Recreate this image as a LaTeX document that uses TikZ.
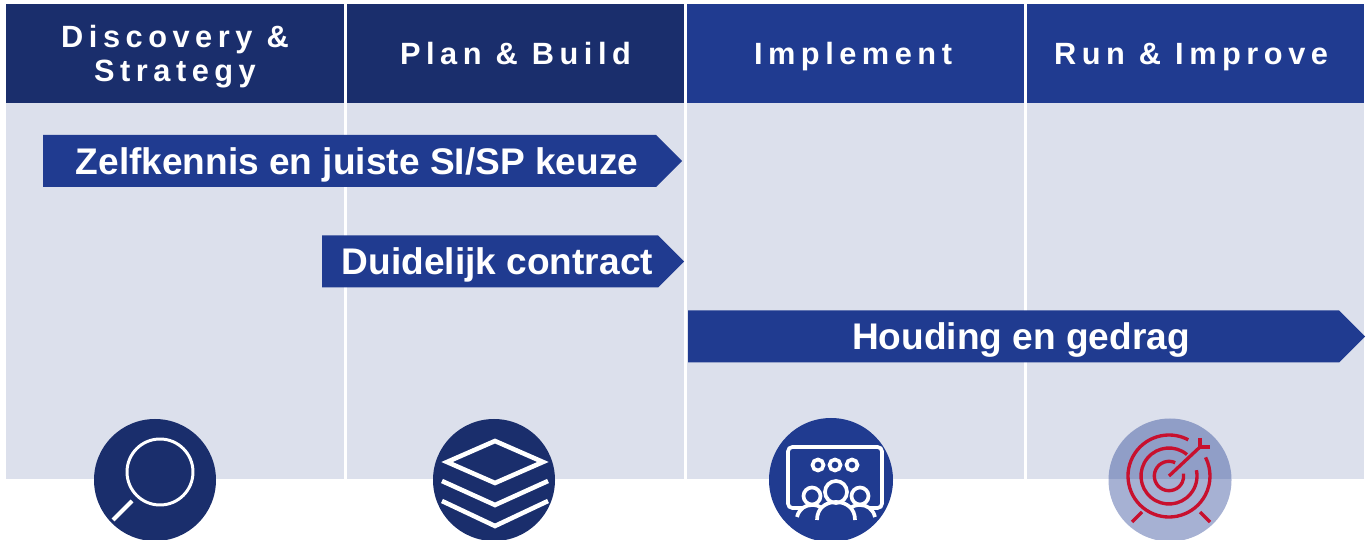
\documentclass[tikz,border=0pt]{standalone}
\usepackage{fontspec}
\setmainfont{Liberation Sans}
\newfontfamily\headfont[LetterSpace=18]{Liberation Sans}
\usetikzlibrary{shapes.symbols}
\definecolor{darkblue}{HTML}{1A2E6C}
\definecolor{midblue}{HTML}{203B90}
\definecolor{paleblue}{HTML}{DCE0EC}
\definecolor{targetred}{HTML}{C8102E}
\def\px{0.02cm}
\tikzset{
    panel/.style={fill=paleblue, inner sep=0, outer sep=0, minimum width=337*\px, minimum height=375*\px},
    header/.style={text=white, inner sep=0, outer sep=0, minimum width=337*\px, minimum height=99*\px, align=center,
        text depth=0pt, font=\headfont\fontsize{17.5}{19.6}\selectfont\bfseries},
    banner/.style={signal, signal to=east, signal pointer angle=90, fill=midblue, text=white, inner sep=0, outer sep=0,
        minimum height=52*\px, text height=15.3pt, text depth=0pt, font=\fontsize{21.1}{25}\selectfont\bfseries},
    badge/.style={circle, inner sep=0, outer sep=0, minimum size=122*\px},
    iconline/.style={draw=white, line width=1.7pt},
    peopleline/.style={draw=white, line width=2.1pt},
    targetline/.style={draw=targetred, line width=1.9pt}
}
\begin{document}
\begin{tikzpicture}[x=0.02cm, y=-0.02cm]
    \useasboundingbox (0, 0) rectangle (1366, 540);
    \node[panel, minimum width=338*\px] (panel1) at (175, 291) {};
    \node[panel] (panel2) at (515.5, 291) {};
    \node[panel] (panel3) at (855.5, 291) {};
    \node[panel] (panel4) at (1195, 291) {};
    \node[header, fill=darkblue, minimum width=338*\px] (discovery) at (175, 53.5) {Discovery \&\\Strategy};
    \node[header, fill=darkblue] (plan) at (515.5, 53.5) {Plan \& Build};
    \node[header, fill=midblue] (implement) at (855.5, 53.5) {Implement\hspace*{2.8pt}};
    \node[header, fill=midblue] (run) at (1195, 53.5) {Run \& Improve\hspace*{4.5pt}};
    \node[banner, minimum width=639*\px] (zelfkennis) at (349.5, 161) {\hspace*{8.5pt}Zelfkennis en juiste SI/SP keuze};
    \node[banner, minimum width=362*\px] (contract) at (490, 261.5) {\hspace*{8.5pt}Duidelijk contract};
    \node[banner, minimum width=677*\px] (houding) at (1013.5, 336.5) {\hspace*{8.5pt}Houding en gedrag};
    \node[badge, fill=darkblue] (search) at (155, 480) {};
    \node[badge, fill=darkblue] (layers) at (494, 480) {};
    \node[badge, fill=midblue, minimum size=124*\px] (team) at (831, 480) {};
    \node[badge, fill=midblue, fill opacity=0.4, minimum size=123*\px] (goal) at (1170, 480) {};
    % magnifier
    \draw[iconline] (160, 472) circle (33);
    \draw[iconline, line width=2.4pt] (132, 501) -- (113, 520);
    % layers
    \draw[iconline, line width=2.6pt, miter limit=10] (495, 441) -- (543, 462) -- (495, 483) -- (447, 462) -- cycle;
    \draw[iconline, line width=2.6pt] (442, 481) -- (495, 505) -- (548, 481);
    \draw[iconline, line width=2.6pt] (442, 501) -- (495, 526) -- (548, 501);
    % audience
    \draw[peopleline, rounded corners=2.5pt] (803, 508) -- (788, 508) -- (788, 447) -- (882, 447) -- (882, 508) -- (869, 508);
    \draw[peopleline] (818, 465) circle (5.5);
    \draw[peopleline] (835, 465) circle (5.5);
    \draw[peopleline] (852, 465) circle (5.5);
    \draw[peopleline] (836, 492) circle (11);
    \draw[peopleline] (812, 496) circle (8.5);
    \draw[peopleline] (860, 496) circle (8.5);
    \draw[peopleline] (817, 520) .. controls (817, 508) and (826, 502) .. (836, 502) .. controls (846, 502) and (855, 508) .. (855, 520);
    \draw[peopleline] (797, 517) .. controls (799, 509) and (805, 505) .. (812, 505) .. controls (816, 505) and (819, 506) .. (822, 508);
    \draw[peopleline] (875, 517) .. controls (873, 509) and (867, 505) .. (860, 505) .. controls (856, 505) and (853, 506) .. (850, 508);
    % target
    \coordinate (bull) at (1169, 476);
    \draw[targetline] (bull) ++(-62:41) arc[start angle=-62, end angle=-387, radius=41];
    \draw[targetline] (bull) ++(-50:28) arc[start angle=-50, end angle=-372, radius=28];
    \draw[targetline] (bull) ++(-65:14.7) arc[start angle=-65, end angle=-369, radius=14.7];
    \draw[targetline] (bull) -- (1200, 447);
    \draw[targetline] (1200, 438) -- (1200, 447) -- (1210, 447);
    \draw[targetline] (1142, 512) -- (1132, 522);
    \draw[targetline] (1200, 512) -- (1210, 522);
\end{tikzpicture}
\end{document}
